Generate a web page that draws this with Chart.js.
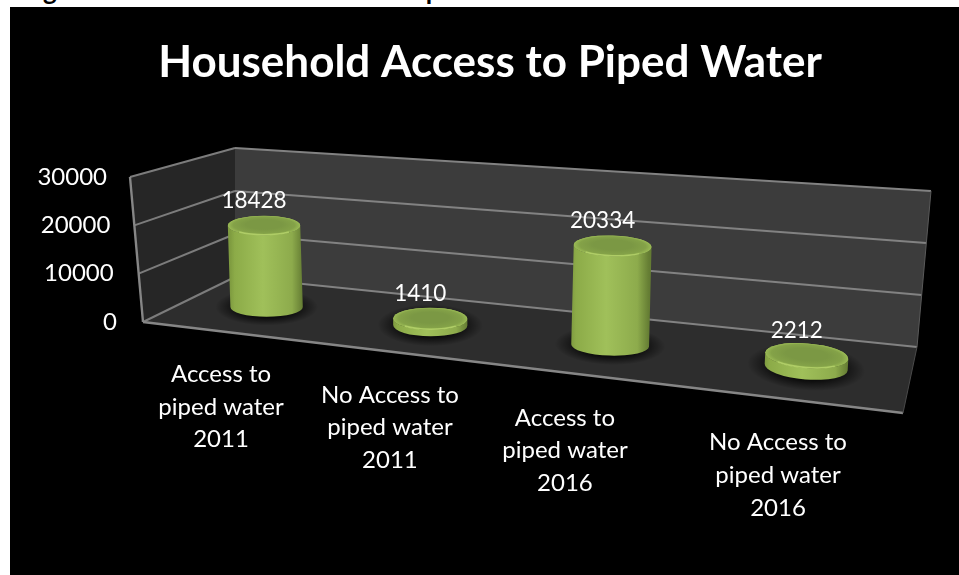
<!DOCTYPE html>
<html>
<head>
<meta charset="utf-8">
<title>Household Access to Piped Water</title>
<script src="https://cdn.jsdelivr.net/npm/chart.js@4"></script>
<style>
  html, body { margin: 0; height: 100%; background: #fff; overflow: hidden; }
  #heading { position: absolute; left: 20px; top: -26px; font: bold 26px Lato, sans-serif; color: #000; white-space: nowrap; letter-spacing: 0.9px; }
  #panel { position: absolute; left: 10px; top: 7px; right: 0; bottom: 0; background: #000; }
  #chart { position: absolute; left: 21px; top: 7px; }
</style>
</head>
<body>
<div id="heading">Figure 3: Household Access to Piped</div>
<div id="panel"></div>
<canvas id="chart" width="938" height="568"></canvas>
<script>
const categories = [
  ["Access to", "piped water", "2011"],
  ["No Access to", "piped water", "2011"],
  ["Access to", "piped water", "2016"],
  ["No Access to", "piped water", "2016"]
];
const households = [18428, 1410, 20334, 2212];
const tickValues = [0, 10000, 20000, 30000];

// page offset of the canvas, the box corners below are in page pixels
const offX = 21, offY = 7;
const floorCorners = { fl: [143, 322], fr: [903, 413], bl: [235, 277], br: [917, 347] };
const topCorners = { fl: [130, 177], fr: [911, 234], bl: [235, 148], br: [931, 191] };
const labelNudge = [-2, -6, -21, -15];
const barDepth = 0.52;

const mix = (a, b, t) => [a[0] + (b[0] - a[0]) * t, a[1] + (b[1] - a[1]) * t];
const warp = (u) => u - 0.18 * u * (1 - u);

function quad(c, u, w) {
  return mix(mix(c.fl, c.fr, u), mix(c.bl, c.br, u), w);
}

// u along the x axis, w into the depth, v up the value axis, all 0..1
function project(u, w, v) {
  const p = mix(quad(floorCorners, warp(u), w), quad(topCorners, warp(u), w), v);
  return [p[0] - offX, p[1] - offY];
}

function poly(ctx, pts, fill) {
  ctx.beginPath();
  pts.forEach((p, i) => i ? ctx.lineTo(p[0], p[1]) : ctx.moveTo(p[0], p[1]));
  ctx.closePath();
  ctx.fillStyle = fill;
  ctx.fill();
}

function line(ctx, a, b, color, width) {
  ctx.beginPath();
  ctx.moveTo(a[0], a[1]);
  ctx.lineTo(b[0], b[1]);
  ctx.strokeStyle = color;
  ctx.lineWidth = width;
  ctx.stroke();
}

function drawBox(chart) {
  const ctx = chart.ctx;
  const yScale = chart.scales.y;
  const P = project;
  poly(ctx, [P(0, 0, 0), P(0, 1, 0), P(0, 1, 1), P(0, 0, 1)], "#262626");
  poly(ctx, [P(0, 1, 0), P(1, 1, 0), P(1, 1, 1), P(0, 1, 1)], "#3c3c3c");
  poly(ctx, [P(0, 0, 0), P(1, 0, 0), P(1, 1, 0), P(0, 1, 0)], "#2d2d2d");
  yScale.ticks.forEach((t) => {
    const v = t.value / yScale.max;
    line(ctx, P(0, 0, v), P(0, 1, v), "#7c7c7c", 2);
    line(ctx, P(0, 1, v), P(1, 1, v), "#828282", 2);
  });
  line(ctx, P(0, 0, 0), P(0, 0, 1), "#868686", 2.4);
  line(ctx, P(0, 0, 0), P(1, 0, 0), "#868686", 2.4);
  line(ctx, P(1, 0, 0), P(1, 1, 0), "#4a4a4a", 1);
  line(ctx, P(1, 1, 0), P(1, 1, 1), "#5a5a5a", 1);
}

function drawCylinder(ctx, base, top, rx, ry, tilt) {
  // shadow on the floor
  ctx.save();
  ctx.translate(base[0], base[1]);
  ctx.rotate(tilt);
  ctx.scale(1, (ry * 1.9) / (rx * 1.42));
  const sh = ctx.createRadialGradient(0, 0, rx * 0.7, 0, 0, rx * 1.42);
  sh.addColorStop(0, "rgba(0,0,0,0.85)");
  sh.addColorStop(1, "rgba(0,0,0,0)");
  ctx.fillStyle = sh;
  ctx.beginPath();
  ctx.arc(0, 0, rx * 1.42, 0, Math.PI * 2);
  ctx.fill();
  ctx.restore();

  // side
  const g = ctx.createLinearGradient(base[0] - rx, 0, base[0] + rx, 0);
  g.addColorStop(0, "#7f9c40");
  g.addColorStop(0.06, "#8cab48");
  g.addColorStop(0.45, "#a0c05a");
  g.addColorStop(0.85, "#8dab4c");
  g.addColorStop(1, "#647c33");
  ctx.beginPath();
  ctx.ellipse(base[0], base[1], rx, ry, tilt, 0, Math.PI);
  ctx.lineTo(top[0] - rx * Math.cos(tilt), top[1] - rx * Math.sin(tilt));
  ctx.ellipse(top[0], top[1], rx, ry, tilt, Math.PI, 0, true);
  ctx.closePath();
  ctx.fillStyle = g;
  ctx.fill();

  // cap with a light rim at the front
  ctx.save();
  ctx.translate(top[0], top[1]);
  ctx.rotate(tilt);
  ctx.beginPath();
  ctx.ellipse(0, 0, rx, ry, 0, 0, Math.PI * 2);
  ctx.fillStyle = "#94b350";
  ctx.fill();
  ctx.clip();
  ctx.scale(1, ry / rx);
  const cap = ctx.createRadialGradient(0, -rx * 0.1, rx * 0.5, 0, 0, rx);
  cap.addColorStop(0, "#7b9844");
  cap.addColorStop(0.7, "#84a248");
  cap.addColorStop(1, "#9aba55");
  ctx.fillStyle = cap;
  ctx.fillRect(-rx, -rx, rx * 2, rx * 2);
  ctx.restore();
  ctx.beginPath();
  ctx.ellipse(top[0], top[1], rx - 1, ry - 0.5, tilt, Math.PI * 0.25, Math.PI * 0.75);
  ctx.strokeStyle = "#afcd66";
  ctx.lineWidth = 1.5;
  ctx.stroke();
}

const cylinderPlugin = {
  id: "cylinders",
  afterLayout(chart) {
    // tick labels follow the slanted edges of the box
    const xs = chart.scales.x, ys = chart.scales.y;
    const u0 = 0.5 / categories.length;
    xs.getLabelItems().forEach((item, i) => {
      const u = (i + 0.5) / categories.length;
      const front = project(u, 0, 0);
      item.options.translation[0] = front[0] + labelNudge[i];
      item.options.translation[1] += front[1] - project(u0, 0, 0)[1];
    });
    ys.getLabelItems().forEach((item, i) => {
      item.options.translation[0] -= (ys.ticks[i].value / ys.max) * 10;
    });
    // labels are clipped to the scale box, let them use the left margin too
    ys.left = 0;
  },
  beforeDatasetsDraw(chart) {
    drawBox(chart);
    const ctx = chart.ctx;
    const xs = chart.scales.x, ys = chart.scales.y;
    const meta = chart.getDatasetMeta(0);
    const heightScale = 0.95;
    meta.data.forEach((bar, i) => {
      const u = (bar.x - xs.left) / xs.width;
      const v = (ys.bottom - bar.y) / ys.height;
      const base = project(u, barDepth, 0);
      const top = project(u, barDepth, v * heightScale);
      const rx = (bar.width / 2) * (1 + 0.2 * u * u);
      const ry = rx * (0.3 - 0.05 * v);
      drawCylinder(ctx, base, top, rx, ry, 0.12 * u * u * u);
      ctx.fillStyle = "#fff";
      ctx.font = "22.5px Lato, sans-serif";
      ctx.textAlign = "center";
      ctx.textBaseline = "middle";
      ctx.fillText(String(households[i]), top[0] - 10, top[1] - 25);
    });
  }
};

new Chart(document.getElementById("chart"), {
  type: "bar",
  data: {
    labels: categories,
    datasets: [{
      data: households,
      backgroundColor: "rgba(0,0,0,0)",
      borderWidth: 0,
      barPercentage: 0.38,
      categoryPercentage: 1
    }]
  },
  options: {
    responsive: false,
    animation: false,
    layout: { padding: { left: 56, right: 56 } },
    plugins: {
      legend: { display: false },
      tooltip: { enabled: false },
      title: {
        display: true,
        text: "Household Access to Piped Water",
        color: "#fff",
        font: { family: "Lato, sans-serif", size: 44, weight: "bold", lineHeight: 1.2 },
        padding: { top: 29, bottom: 88 }
      }
    },
    scales: {
      x: {
        grid: { display: false, drawTicks: false },
        border: { display: false },
        ticks: {
          color: "#fff",
          autoSkip: false,
          maxRotation: 0,
          padding: 36,
          font: { family: "Lato, sans-serif", size: 24, lineHeight: 1.36 }
        },
        afterFit(scale) { scale.height = 253; }
      },
      y: {
        min: 0,
        max: 30000,
        grid: { display: false, drawTicks: false },
        border: { display: false },
        afterBuildTicks(scale) { scale.ticks = tickValues.map((value) => ({ value })); },
        ticks: {
          color: "#fff",
          padding: 26,
          callback: (value) => String(value),
          font: { family: "Lato, sans-serif", size: 24 }
        },
        afterFit(scale) { scale.width = 66; }
      }
    }
  },
  plugins: [cylinderPlugin]
});
</script>
</body>
</html>
